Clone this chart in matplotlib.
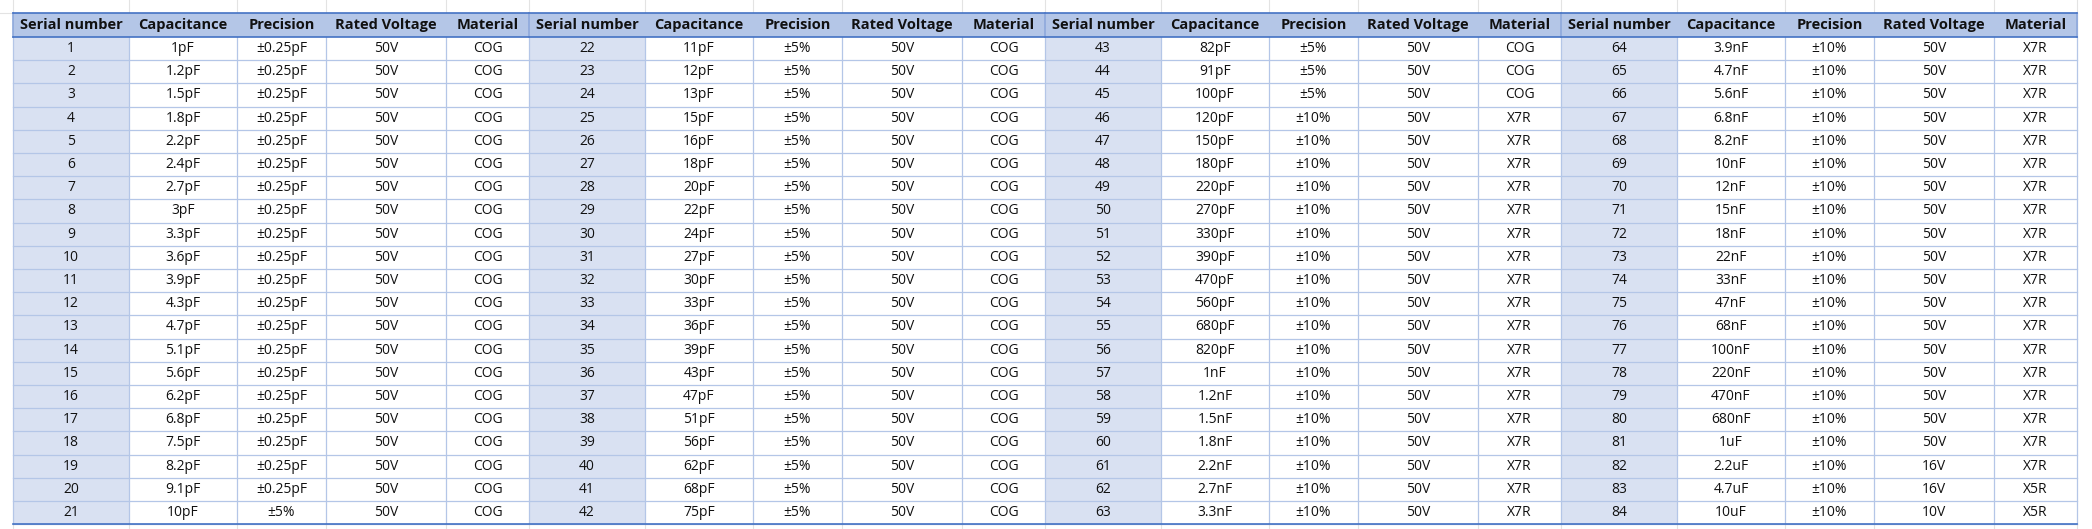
import matplotlib.pyplot as plt
from matplotlib.patches import Rectangle

# table data
headers = ["Serial number", "Capacitance", "Precision", "Rated Voltage", "Material"]
serial = list(range(1, 85))
capacitance = ["1pF", "1.2pF", "1.5pF", "1.8pF", "2.2pF", "2.4pF", "2.7pF", "3pF", "3.3pF", "3.6pF",
               "3.9pF", "4.3pF", "4.7pF", "5.1pF", "5.6pF", "6.2pF", "6.8pF", "7.5pF", "8.2pF", "9.1pF", "10pF",
               "11pF", "12pF", "13pF", "15pF", "16pF", "18pF", "20pF", "22pF", "24pF", "27pF",
               "30pF", "33pF", "36pF", "39pF", "43pF", "47pF", "51pF", "56pF", "62pF", "68pF", "75pF",
               "82pF", "91pF", "100pF", "120pF", "150pF", "180pF", "220pF", "270pF", "330pF", "390pF",
               "470pF", "560pF", "680pF", "820pF", "1nF", "1.2nF", "1.5nF", "1.8nF", "2.2nF", "2.7nF", "3.3nF",
               "3.9nF", "4.7nF", "5.6nF", "6.8nF", "8.2nF", "10nF", "12nF", "15nF", "18nF", "22nF",
               "33nF", "47nF", "68nF", "100nF", "220nF", "470nF", "680nF", "1uF", "2.2uF", "4.7uF", "10uF"]
precision = ["±0.25pF"] * 20 + ["±5%"] * 25 + ["±10%"] * 39
voltage = ["50V"] * 81 + ["16V", "16V", "10V"]
material = ["COG"] * 45 + ["X7R"] * 37 + ["X5R", "X5R"]

W, H = 2092, 529
fig = plt.figure(figsize=(W / 100, H / 100), dpi=100)
ax = fig.add_axes([0, 0, 1, 1])
ax.set_xlim(0, W)
ax.set_ylim(H, 0)
ax.axis("off")

x0 = 13
col_w = [116, 108, 89, 120, 83]
block_w = sum(col_w)
top = 13
head_h = 24
row_h = 23.2
nrows = 21
bottom = top + head_h + nrows * row_h

edges = [x0]
for b in range(4):
    for w in col_w:
        edges.append(edges[-1] + w)

# faint spreadsheet grid outside table
for xe in edges:
    ax.plot([xe, xe], [0, top], color="#e3e3e3", lw=0.8)
    ax.plot([xe, xe], [bottom, H], color="#e3e3e3", lw=0.8)
ax.plot([0, W], [bottom + 23, bottom + 23], color="#e3e3e3", lw=0.8)
ax.plot([0, x0], [top, top], color="#e3e3e3", lw=0.8)

font = "Open Sans"
for b in range(4):
    bx = x0 + b * block_w
    # header
    ax.add_patch(Rectangle((bx, top), block_w, head_h, color="#b4c6e7", lw=0))
    cx = bx
    for j, w in enumerate(col_w):
        ax.text(cx + w / 2, top + head_h / 2, headers[j], ha="center", va="center",
                fontsize=10.5, fontweight="bold", family=font, color="#111111")
        cx += w
    # serial column fill
    ax.add_patch(Rectangle((bx, top + head_h), col_w[0], nrows * row_h, color="#d9e1f2", lw=0))
    for r in range(nrows):
        k = b * nrows + r
        y = top + head_h + (r + 0.5) * row_h
        vals = [str(serial[k]), capacitance[k], precision[k], voltage[k], material[k]]
        cx = bx
        for j, w in enumerate(col_w):
            ax.text(cx + w / 2, y, vals[j], ha="center", va="center",
                    fontsize=10, family=font, color="#111111")
            cx += w

# table grid
for r in range(1, nrows + 1):
    y = top + head_h + r * row_h
    ax.plot([x0, edges[-1]], [y, y], color="#b4c6e7", lw=0.9)
for xe in edges:
    ax.plot([xe, xe], [top, bottom], color="#b4c6e7", lw=0.9)
for i in range(5):
    xe = x0 + i * block_w
    ax.plot([xe, xe], [top, top + head_h], color="#8ea9db", lw=1.2)
ax.plot([x0, edges[-1]], [top, top], color="#4472c4", lw=1.2)
ax.plot([x0, edges[-1]], [top + head_h, top + head_h], color="#4472c4", lw=1.2)
ax.plot([x0, edges[-1]], [bottom, bottom], color="#4472c4", lw=1.2)

fig.savefig("out.png", dpi=100)
